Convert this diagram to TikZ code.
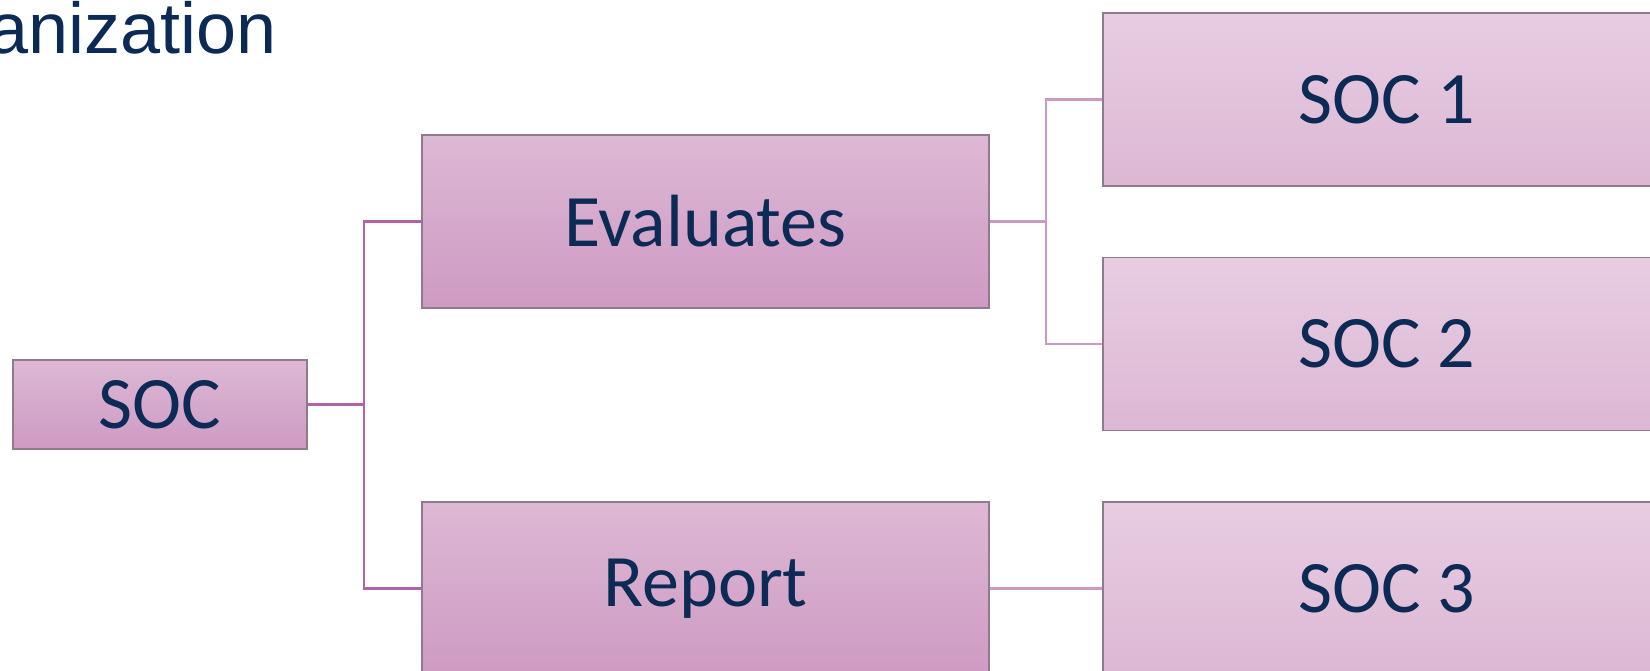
\documentclass[tikz,border=0pt]{standalone}
\usepackage{fontspec}
\setmainfont{Carlito}
\newfontfamily\titlefont{Liberation Sans}
\definecolor{txt}{HTML}{0C2A56}
\definecolor{bordc}{HTML}{8F7B8B}
\definecolor{darktop}{HTML}{DDB8D4}
\definecolor{darkbot}{HTML}{CE9AC3}
\definecolor{lighttop}{HTML}{E7CDE2}
\definecolor{lightbot}{HTML}{DDB7D4}
\definecolor{lconnc}{HTML}{B462A6}
\definecolor{rconnc}{HTML}{CB99C3}
\begin{document}
\begin{tikzpicture}[x=0.5pt,y=-0.5pt,
  boxbase/.style={draw=bordc, line width=0.6pt, text=txt, inner sep=0pt,
    font=\fontsize{37}{42}\selectfont},
  darkbox/.style={boxbase, top color=darktop, bottom color=darkbot},
  lightbox/.style={boxbase, top color=lighttop, bottom color=lightbot},
  lconn/.style={draw=lconnc, line width=1.4pt},
  rconn/.style={draw=rconnc, line width=1.4pt},
  titletext/.style={text=txt, inner sep=0pt, font=\titlefont\fontsize{36}{40}\selectfont}]
\useasboundingbox (0,0) rectangle (1650,670);
\node[titletext, anchor=base east] (title) at (277,53) {anization};
\node[darkbox, minimum width=147pt, minimum height=44.5pt] (soc) at (160,404.5) {SOC};
\node[darkbox, minimum width=283.5pt, minimum height=86.5pt] (eval) at (705.5,221.5) {Evaluates};
\node[darkbox, minimum width=283.5pt, minimum height=86.5pt] (report) at (705.5,588.5) {Report};
\node[lightbox, minimum width=283.5pt, minimum height=86.5pt] (soc1) at (1386.5,99.5) {SOC 1};
\node[lightbox, minimum width=283.5pt, minimum height=86.5pt] (soc2) at (1386.5,344) {SOC 2};
\node[lightbox, minimum width=283.5pt, minimum height=86.5pt] (soc3) at (1386.5,588.5) {SOC 3};
\coordinate (j1) at (364,404.5);
\coordinate (j2) at (1046,221.5);
\draw[lconn] (soc.east) -- (j1);
\draw[lconn] (j1) |- (eval.west);
\draw[lconn] (j1) |- (report.west);
\draw[rconn] (eval.east) -- (j2);
\draw[rconn] (j2) |- (soc1.west);
\draw[rconn] (j2) |- (soc2.west);
\draw[rconn] (report.east) -- (soc3.west);
\end{tikzpicture}
\end{document}
